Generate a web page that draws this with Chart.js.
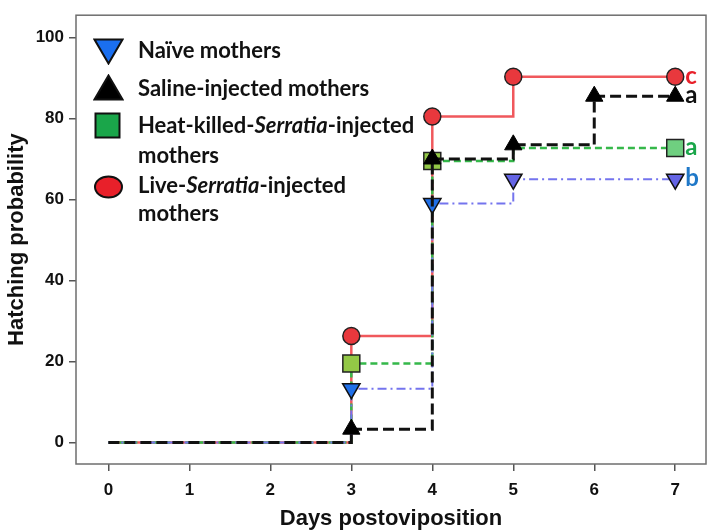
<!DOCTYPE html>
<html>
<head>
<meta charset="utf-8">
<script src="https://cdn.jsdelivr.net/npm/chart.js@4"></script>
<style>
  html, body { margin: 0; padding: 0; background: #fff; }
  #wrap { position: relative; width: 709px; height: 532px; }
  #c { position: absolute; left: 0; top: 0; }
  .leg { position: absolute; font-family: Lato, "Open Sans", sans-serif; font-weight: bold; font-size: 22px; color: #111; white-space: nowrap; line-height: 24px; }
  .mk { position: absolute; }
  .sig { position: absolute; font-family: Lato, "Open Sans", sans-serif; font-weight: bold; font-size: 24px; line-height: 24px; }
</style>
</head>
<body>
<div id="wrap">
  <canvas id="c" width="709" height="532"></canvas>

  <!-- legend, drawn by hand like the original -->
  <svg class="mk" style="left:93px;top:38px" width="31" height="27"><polygon points="1.5,1.5 29.5,1.5 15.5,25.5" fill="#1a6ff0" stroke="#111" stroke-width="2"/></svg>
  <div class="leg" style="left:138px;top:38px">Naïve mothers</div>

  <svg class="mk" style="left:93px;top:74px" width="31" height="27"><polygon points="1.5,25.5 29.5,25.5 15.5,1.5" fill="#000" stroke="#111" stroke-width="2"/></svg>
  <div class="leg" style="left:138px;top:76px">Saline-injected mothers</div>

  <svg class="mk" style="left:94px;top:112px" width="27" height="27"><rect x="1.5" y="1.5" width="24" height="24" fill="#1aa64a" stroke="#111" stroke-width="2"/></svg>
  <div class="leg" style="left:138px;top:113px">Heat-killed-<i>Serratia</i>-injected</div>
  <div class="leg" style="left:138px;top:143px">mothers</div>

  <svg class="mk" style="left:93px;top:175px" width="31" height="24"><ellipse cx="15.5" cy="12" rx="13.5" ry="10.5" fill="#e8202a" stroke="#111" stroke-width="2"/></svg>
  <div class="leg" style="left:138px;top:173px">Live-<i>Serratia</i>-injected</div>
  <div class="leg" style="left:138px;top:201px">mothers</div>

  <div id="sigs"></div>
</div>

<script>
// days where something happened, and hatching % at each one
const naiveDays  = [0, 3, 4, 5, 7];
const naiveVals  = [0, 13.3, 59, 65, 65];

const salineDays = [0, 3, 4, 5, 6, 7];
const salineVals = [0, 3.3, 70, 73.5, 85.5, 85.5];

const heatDays   = [0, 3, 4, 5, 7];
const heatVals   = [0, 19.5, 69.5, 72.7, 72.7];

const liveDays   = [0, 3, 4, 5, 7];
const liveVals   = [0, 26.3, 80.5, 90.3, 90.3];

const xTicks = [0, 1, 2, 3, 4, 5, 6, 7];
const yTicks = [0, 20, 40, 60, 80, 100];

// letters from the stats test, one per group
const sigLetters = {live: 'c', saline: 'a', heat: 'a', naive: 'b'};


function toPoints(days, vals){
    const pts = [];
    for(let i=0; i<days.length; i++){
        pts.push({x: days[i], y: vals[i]});
    }
    return pts;
}

// no marker at the start of a curve (and the heat-killed step at day 5 is hidden under the black one)
function markSize(size, skipDays){
    return function(ctx){
        const p = ctx.raw;
        if (!p || p.x === 0) return 0;
        if (skipDays && skipDays.indexOf(p.x) >= 0) return 0;
        return size;
    };
}

// box round the plot area, like the SPSS output
const boxPlugin = {
    id: 'box',
    afterDraw(chart){
        const a = chart.chartArea;
        const ctx = chart.ctx;
        ctx.save();
        ctx.strokeStyle = '#6e6e6e';
        ctx.lineWidth = 1.5;
        ctx.strokeRect(a.left, a.top, a.right - a.left, a.bottom - a.top);
        ctx.restore();
    }
};

// put the letters next to the last point of each curve
const letterPlugin = {
    id: 'letters',
    afterDraw(chart){
        const box = document.getElementById('sigs');
        box.innerHTML = '';
        const xs = chart.scales.x, ys = chart.scales.y;
        chart.data.datasets.forEach(ds => {
            const last = ds.data[ds.data.length - 1];
            const d = document.createElement('div');
            d.className = 'sig';
            d.textContent = sigLetters[ds.key];
            d.style.color = ds.letterColor;
            d.style.left = (xs.getPixelForValue(last.x) + 10) + 'px';
            d.style.top = (ys.getPixelForValue(last.y) - 14) + 'px';
            box.appendChild(d);
        });
    }
};

const tickFont = { family: '"Liberation Sans", Arial', size: 17, weight: 'bold' };
const titleFont = { family: '"Liberation Sans", Arial', size: 22, weight: 'bold' };

const ctxC = document.getElementById('c');

new Chart(ctxC, {
    type: 'line',
    data: {
        datasets: [
            {
                key: 'saline',
                label: 'Saline-injected mothers',
                data: toPoints(salineDays, salineVals),
                stepped: true,
                borderColor: '#111',
                borderWidth: 3,
                borderDash: [11, 5],
                pointStyle: 'triangle',
                pointRadius: markSize(10),
                pointBackgroundColor: '#000',
                pointBorderColor: '#000',
                pointBorderWidth: 1,
                letterColor: '#111',
                order: 0
            },
            {
                key: 'naive',
                label: 'Naïve mothers',
                data: toPoints(naiveDays, naiveVals),
                stepped: true,
                borderColor: '#7474ee',
                borderWidth: 2,
                borderDash: [9, 4, 2, 4],
                pointStyle: 'triangle',
                rotation: 180,
                pointRadius: markSize(10),
                pointBackgroundColor: ctx => ctx.dataIndex <= 2 ? '#1f6fe8' : '#6464e4',
                pointBorderColor: '#111',
                pointBorderWidth: 1.5,
                letterColor: '#1f78c8',
                order: 1
            },
            {
                key: 'heat',
                label: 'Heat-killed-Serratia-injected mothers',
                data: toPoints(heatDays, heatVals),
                stepped: true,
                borderColor: '#35b84a',
                borderWidth: 2.5,
                borderDash: [7, 4],
                pointStyle: 'rect',
                pointRadius: markSize(12, [5]),
                pointBackgroundColor: ctx => ctx.dataIndex <= 2 ? '#93c846' : '#6fcf80',
                pointBorderColor: '#222',
                pointBorderWidth: 1.5,
                letterColor: '#1aa64a',
                order: 2
            },
            {
                key: 'live',
                label: 'Live-Serratia-injected mothers',
                data: toPoints(liveDays, liveVals),
                stepped: true,
                borderColor: '#f0585c',
                borderWidth: 2.5,
                pointStyle: 'circle',
                pointRadius: markSize(8.5),
                pointBackgroundColor: '#e8383d',
                pointBorderColor: '#222',
                pointBorderWidth: 1.5,
                letterColor: '#e8202a',
                order: 3
            }
        ]
    },
    options: {
        responsive: false,
        animation: false,
        layout: { autoPadding: false, padding: { top: 2, right: 3, left: 0, bottom: 0 } },
        plugins: {
            legend: { display: false },
            tooltip: { enabled: false }
        },
        scales: {
            x: {
                type: 'linear',
                min: -0.4,
                max: 7.38,
                afterBuildTicks: s => { s.ticks = xTicks.map(v => ({value: v})); },
                afterFit: s => { s.height = 68; },
                grid: { display: true, drawOnChartArea: false, drawTicks: true, tickLength: 7, color: '#555', lineWidth: 1.5 },
                border: { display: false },
                ticks: { padding: 9, color: '#111', font: tickFont },
                title: {
                    display: true,
                    text: 'Days postoviposition',
                    color: '#111',
                    padding: { top: 0, bottom: 0 },
                    font: titleFont
                }
            },
            y: {
                min: -5.3,
                max: 105.5,
                afterBuildTicks: s => { s.ticks = yTicks.map(v => ({value: v})); },
                afterFit: s => { s.width = 76; },
                grid: { display: true, drawOnChartArea: false, drawTicks: true, tickLength: 7, color: '#555', lineWidth: 1.5 },
                border: { display: false },
                ticks: { padding: 5, color: '#111', font: tickFont },
                title: {
                    display: true,
                    text: 'Hatching probability',
                    color: '#111',
                    padding: { top: 4, bottom: 0 },
                    font: titleFont
                }
            }
        }
    },
    plugins: [boxPlugin, letterPlugin]
});
</script>
</body>
</html>
